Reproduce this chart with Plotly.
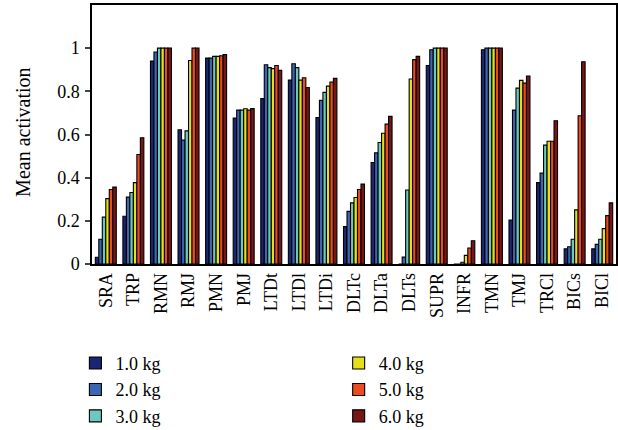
import plotly.graph_objects as go

# Muscles on the x axis
muscles = ["SRA", "TRP", "RMN", "RMJ", "PMN", "PMJ", "LTDt", "LTDl", "LTDi",
           "DLTc", "DLTa", "DLTs", "SUPR", "INFR", "TMN", "TMJ", "TRCl", "BICs", "BICl"]

# Mean activation for each load
act_1kg = [0.031, 0.221, 0.940, 0.622, 0.954, 0.676, 0.766, 0.852, 0.679,
           0.173, 0.470, 0.000, 0.920, 0.000, 0.993, 0.204, 0.377, 0.070, 0.070]
act_2kg = [0.115, 0.310, 0.982, 0.574, 0.954, 0.713, 0.923, 0.928, 0.758,
           0.244, 0.515, 0.032, 0.993, 0.000, 1.000, 0.713, 0.421, 0.080, 0.091]
act_3kg = [0.217, 0.331, 1.000, 0.617, 0.962, 0.713, 0.910, 0.910, 0.795,
           0.283, 0.563, 0.343, 1.000, 0.008, 1.000, 0.815, 0.551, 0.115, 0.115]
act_4kg = [0.303, 0.377, 1.000, 0.943, 0.962, 0.719, 0.905, 0.852, 0.824,
           0.308, 0.606, 0.857, 1.000, 0.040, 1.000, 0.851, 0.569, 0.251, 0.164]
act_5kg = [0.345, 0.507, 1.000, 1.000, 0.965, 0.713, 0.920, 0.863, 0.843,
           0.345, 0.648, 0.947, 1.000, 0.074, 1.000, 0.838, 0.569, 0.687, 0.224]
act_6kg = [0.356, 0.585, 1.000, 1.000, 0.970, 0.720, 0.897, 0.818, 0.860,
           0.370, 0.684, 0.962, 1.000, 0.108, 1.000, 0.871, 0.664, 0.937, 0.283]

loads = ["1.0 kg", "2.0 kg", "3.0 kg", "4.0 kg", "5.0 kg", "6.0 kg"]
series = [act_1kg, act_2kg, act_3kg, act_4kg, act_5kg, act_6kg]
colors = ["#1c2572", "#3b66b3", "#6dc9be", "#e6e01a", "#ee4a22", "#781616"]

FONT = "Liberation Serif"

fig = go.Figure()
for i, (name, vals, col) in enumerate(zip(loads, series, colors)):
    fig.add_trace(go.Bar(
        x=muscles, y=vals, name=name,
        marker=dict(color=col, line=dict(color="black", width=1.1)),
        legend="legend" if i < 3 else "legend2",
    ))

legend_common = dict(
    font=dict(family=FONT, size=18, color="black"),
    bgcolor="rgba(0,0,0,0)",
    xref="container", yref="container",
    xanchor="left", yanchor="top",
)

fig.update_layout(
    width=618, height=430,
    margin=dict(l=92, r=2, t=5, b=166, autoexpand=False),
    plot_bgcolor="white", paper_bgcolor="white",
    font=dict(family=FONT, size=18, color="black"),
    barmode="group", bargap=0.24, bargroupgap=0,
    legend=dict(x=0.122, y=0.198, **legend_common),
    legend2=dict(x=0.548, y=0.198, **legend_common),
    xaxis=dict(
        tickangle=-90, showline=True, linecolor="black", linewidth=1.5,
        mirror=True, ticks="", tickfont=dict(family=FONT, size=18),
        tickmode="linear", dtick=1,
    ),
    yaxis=dict(
        range=[0, 1.2], tickvals=[0, 0.2, 0.4, 0.6, 0.8, 1],
        ticktext=["0", "0.2", "0.4", "0.6", "0.8", "1"],
        showline=True, linecolor="black", linewidth=1.5, mirror=True,
        ticks="outside", ticklen=5, tickwidth=1.5, showgrid=False, zeroline=False,
        tickfont=dict(family=FONT, size=18), ticklabelstandoff=2,
    ),
    annotations=[dict(
        text="Mean activation", textangle=-90,
        xref="paper", yref="paper", x=-0.1317, y=0.51,
        xanchor="center", yanchor="middle", showarrow=False,
        font=dict(family=FONT, size=20, color="black"),
    )],
)

fig.write_html("out.html")
